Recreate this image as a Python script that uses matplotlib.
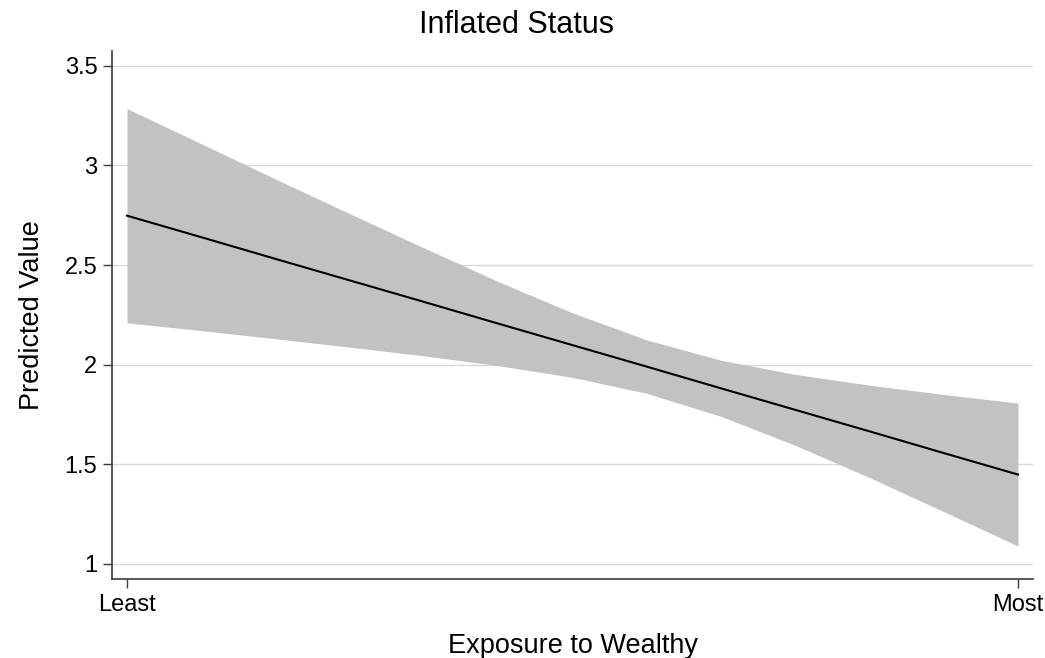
import numpy as np
import matplotlib.pyplot as plt
from matplotlib.ticker import FormatStrFormatter

plt.rcParams['font.family'] = ['Liberation Sans', 'DejaVu Sans']

# Margins evaluated at 13 points along exposure (0 = least, 12 = most)
exposure = [0, 1, 2, 3, 4, 5, 6, 7, 8, 9, 10, 11, 12]
predicted = [2.748, 2.640, 2.531, 2.423, 2.315, 2.206, 2.098,
             1.990, 1.881, 1.773, 1.665, 1.556, 1.448]
ci_upper = [3.286, 3.109, 2.932, 2.758, 2.586, 2.417, 2.260,
            2.124, 2.022, 1.951, 1.897, 1.850, 1.807]
ci_lower = [2.210, 2.171, 2.130, 2.088, 2.044, 1.995, 1.936,
            1.856, 1.740, 1.595, 1.433, 1.262, 1.089]

xtick_pos = [0, 12]
xtick_labels = ['Least', 'Most']
yticks = [1, 1.5, 2, 2.5, 3, 3.5]

axis_color = '#3c3c3c'

fig = plt.figure(figsize=(10.45, 6.58), dpi=100)
ax = fig.add_axes([0.1072, 0.1196, 0.8813, 0.8029])

ax.fill_between(exposure, ci_lower, ci_upper, color='#c2c2c2', linewidth=0, zorder=2)
ax.plot(exposure, predicted, color='black', linewidth=1.5, zorder=3)

ax.set_xlim(-0.202, 12.202)
ax.set_ylim(0.922, 3.575)
ax.set_xticks(xtick_pos)
ax.set_xticklabels(xtick_labels)
ax.set_yticks(yticks)
ax.yaxis.set_major_formatter(FormatStrFormatter('%g'))

ax.grid(axis='y', color='#d9d9d9', linewidth=1.0, zorder=0)
ax.set_axisbelow(True)

for side in ['top', 'right']:
    ax.spines[side].set_visible(False)
for side in ['left', 'bottom']:
    ax.spines[side].set_color(axis_color)
    ax.spines[side].set_linewidth(1.2)

ax.tick_params(axis='both', length=6.5, width=1.0, color=axis_color,
               labelsize=17, labelcolor='black', pad=4)

ax.set_xlabel('Exposure to Wealthy', fontsize=19.5, labelpad=12)
ax.set_ylabel('Predicted Value', fontsize=19.5, labelpad=14)
fig.suptitle('Inflated Status', x=0.494, y=0.985, fontsize=22, va='top')

fig.savefig('out.png', dpi=100, facecolor='white')
